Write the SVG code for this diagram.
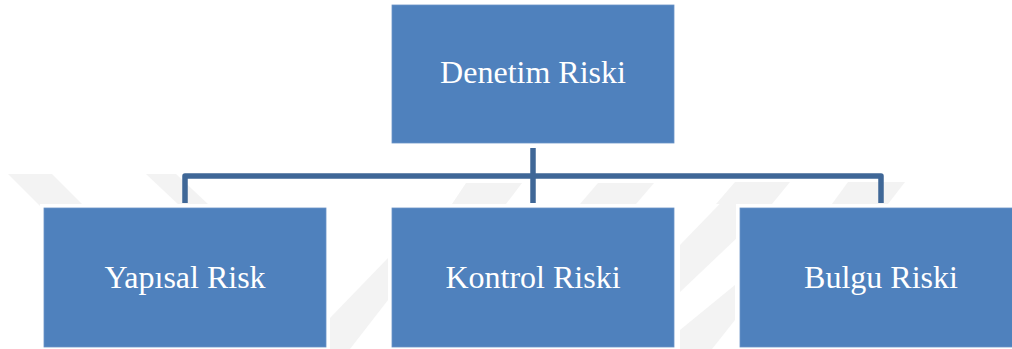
<svg xmlns="http://www.w3.org/2000/svg" width="1012" height="349" viewBox="0 0 1012 349">
<style>
.wm{fill:#f3f3f3}
.pad{fill:#ffffff}
.box{fill:#4f81bd;stroke:#6a93c7;stroke-width:0.8}
.lbl{font-family:"Liberation Serif","Times New Roman",serif;font-size:32px;fill:#ffffff;text-anchor:middle}
.conn{fill:none;stroke:#3f6797;stroke-width:5.5;stroke-linejoin:round;stroke-linecap:butt}
</style>
<rect width="1012" height="349" fill="#ffffff"/>
<g id="watermark">
<polygon class="wm" points="8,174 52,174 84,206 40,206"/>
<polygon class="wm" points="146,174 176,174 210,206 180,206"/>
<polygon class="wm" points="466,183 522,183 506,204 452,204"/>
<polygon class="wm" points="598,183 654,183 636,204 580,204"/>
<polygon class="wm" points="735,182 790,182 772,204 716,204"/>
<polygon class="wm" points="848,182 905,182 888,204 832,204"/>
<polygon class="wm" points="330,318 388,258 388,300 350,349 330,349"/>
<polygon class="wm" points="680,245 740,183 740,235 680,292"/>
<polygon class="wm" points="680,330 735,285 735,320 712,349 680,349"/>
</g>
<g id="connectors">
<path class="conn" d="M533 148 V203"/>
<path class="conn" d="M185 203 V176 H881 V203"/>
</g>
<g id="node-denetim">
<rect class="box" x="392" y="5" width="282" height="138"/>
<text class="lbl" x="533" y="83">Denetim Riski</text>
</g>
<g id="node-yapisal">
<rect class="pad" x="40" y="204" width="290" height="145"/>
<rect class="box" x="44" y="208" width="282" height="139"/>
<text class="lbl" x="185" y="288">Yapısal Risk</text>
</g>
<g id="node-kontrol">
<rect class="pad" x="388" y="204" width="290" height="145"/>
<rect class="box" x="392" y="208" width="282" height="139"/>
<text class="lbl" x="533" y="288">Kontrol Riski</text>
</g>
<g id="node-bulgu">
<rect class="pad" x="736" y="204" width="290" height="145"/>
<rect class="box" x="740" y="208" width="282" height="139"/>
<text class="lbl" x="881" y="288">Bulgu Riski</text>
</g>
</svg>
